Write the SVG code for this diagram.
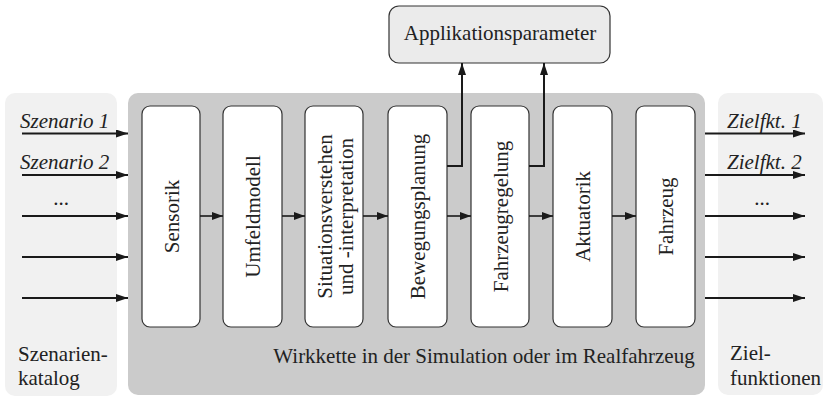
<svg xmlns="http://www.w3.org/2000/svg" width="827" height="398" viewBox="0 0 827 398">
<defs>
<style>
text{font-family:'Liberation Serif','DejaVu Serif','Times New Roman',Times,serif;font-size:21px;fill:#222}
.it{font-style:italic}
.panel{fill:#f1f1f1}
.main{fill:#cbcbcb}
.box{fill:#fff;stroke:#333;stroke-width:1.2}
.app{fill:#ebebeb;stroke:#333;stroke-width:1.2}
.thick{fill:none;stroke:#1a1a1a;stroke-width:2}
.thin{fill:none;stroke:#1a1a1a;stroke-width:1.6}
</style>
<marker id="ah" viewBox="0 0 12 8" refX="12" refY="4" markerWidth="12" markerHeight="8" markerUnits="userSpaceOnUse" orient="auto">
<path d="M0,0 L12,4 L0,8 Z" fill="#1a1a1a"/>
</marker>
<marker id="ahs" viewBox="0 0 11 8" refX="11" refY="4" markerWidth="11" markerHeight="8" markerUnits="userSpaceOnUse" orient="auto">
<path d="M0,0 L11,4 L0,8 Z" fill="#1a1a1a"/>
</marker>
</defs>

<g id="szenarienkatalog">
<rect class="panel" x="5" y="93" width="112" height="303" rx="10"/>
<text x="18" y="361" font-family="Liberation Serif, serif">Szenarien-</text>
<text x="18" y="385" font-family="Liberation Serif, serif">katalog</text>
</g>

<g id="wirkkette">
<rect class="main" x="128" y="93" width="577" height="302" rx="10"/>
<text x="484" y="363" text-anchor="middle">Wirkkette in der Simulation oder im Realfahrzeug</text>
</g>

<g id="zielfunktionen">
<rect class="panel" x="718" y="93" width="105" height="302" rx="10"/>
<text x="730" y="360">Ziel-</text>
<text x="730" y="385">funktionen</text>
</g>

<g id="applikationsparameter">
<rect class="app" x="389" y="6" width="221" height="57" rx="10"/>
<text x="500" y="40" text-anchor="middle">Applikationsparameter</text>
</g>

<g id="sensorik">
<rect class="box" x="142" y="106" width="58" height="221" rx="8"/>
<text transform="translate(178.5,216.5) rotate(-90)" text-anchor="middle">Sensorik</text>
</g>
<g id="umfeldmodell">
<rect class="box" x="223" y="106" width="59" height="221" rx="8"/>
<text transform="translate(260,216.5) rotate(-90)" text-anchor="middle">Umfeldmodell</text>
</g>
<g id="situationsverstehen">
<rect class="box" x="305" y="106" width="58" height="221" rx="8"/>
<text transform="translate(332,216.5) rotate(-90)" text-anchor="middle">Situationsverstehen</text>
<text transform="translate(353,216.5) rotate(-90)" text-anchor="middle">und -interpretation</text>
</g>
<g id="bewegungsplanung">
<rect class="box" x="388" y="106" width="59" height="221" rx="8"/>
<text transform="translate(425,216.5) rotate(-90)" text-anchor="middle">Bewegungsplanung</text>
</g>
<g id="fahrzeugregelung">
<rect class="box" x="471" y="106" width="58" height="221" rx="8"/>
<text transform="translate(507.5,216.5) rotate(-90)" text-anchor="middle">Fahrzeugregelung</text>
</g>
<g id="aktuatorik">
<rect class="box" x="553" y="106" width="59" height="221" rx="8"/>
<text transform="translate(590,216.5) rotate(-90)" text-anchor="middle">Aktuatorik</text>
</g>
<g id="fahrzeug">
<rect class="box" x="636" y="106" width="59" height="221" rx="8"/>
<text transform="translate(673,216.5) rotate(-90)" text-anchor="middle">Fahrzeug</text>
</g>

<g id="labels">
<text class="it" x="20" y="128">Szenario 1</text>
<text class="it" x="20" y="169">Szenario 2</text>
<text x="61" y="205" text-anchor="middle">...</text>
<text class="it" x="727" y="128">Zielfkt. 1</text>
<text class="it" x="727" y="169">Zielfkt. 2</text>
<text x="762" y="205" text-anchor="middle">...</text>
</g>

<g id="connectors">
<path class="thick" d="M22,133.5H128" marker-end="url(#ah)"/>
<path class="thick" d="M22,175H128" marker-end="url(#ah)"/>
<path class="thick" d="M22,216H128" marker-end="url(#ah)"/>
<path class="thick" d="M22,257H128" marker-end="url(#ah)"/>
<path class="thick" d="M22,298H128" marker-end="url(#ah)"/>
<path class="thick" d="M705,133.5H805" marker-end="url(#ah)"/>
<path class="thick" d="M705,175H805" marker-end="url(#ah)"/>
<path class="thick" d="M705,216H805" marker-end="url(#ah)"/>
<path class="thick" d="M705,257H805" marker-end="url(#ah)"/>
<path class="thick" d="M705,298H805" marker-end="url(#ah)"/>
<path class="thin" d="M200,216H223" marker-end="url(#ahs)"/>
<path class="thin" d="M282,216H305" marker-end="url(#ahs)"/>
<path class="thin" d="M363,216H388" marker-end="url(#ahs)"/>
<path class="thin" d="M447,216H471" marker-end="url(#ahs)"/>
<path class="thin" d="M529,216H553" marker-end="url(#ahs)"/>
<path class="thin" d="M612,216H636" marker-end="url(#ahs)"/>
<path class="thick" d="M447,166H462V63" marker-end="url(#ah)"/>
<path class="thick" d="M529,166H544V63" marker-end="url(#ah)"/>
</g>
</svg>
